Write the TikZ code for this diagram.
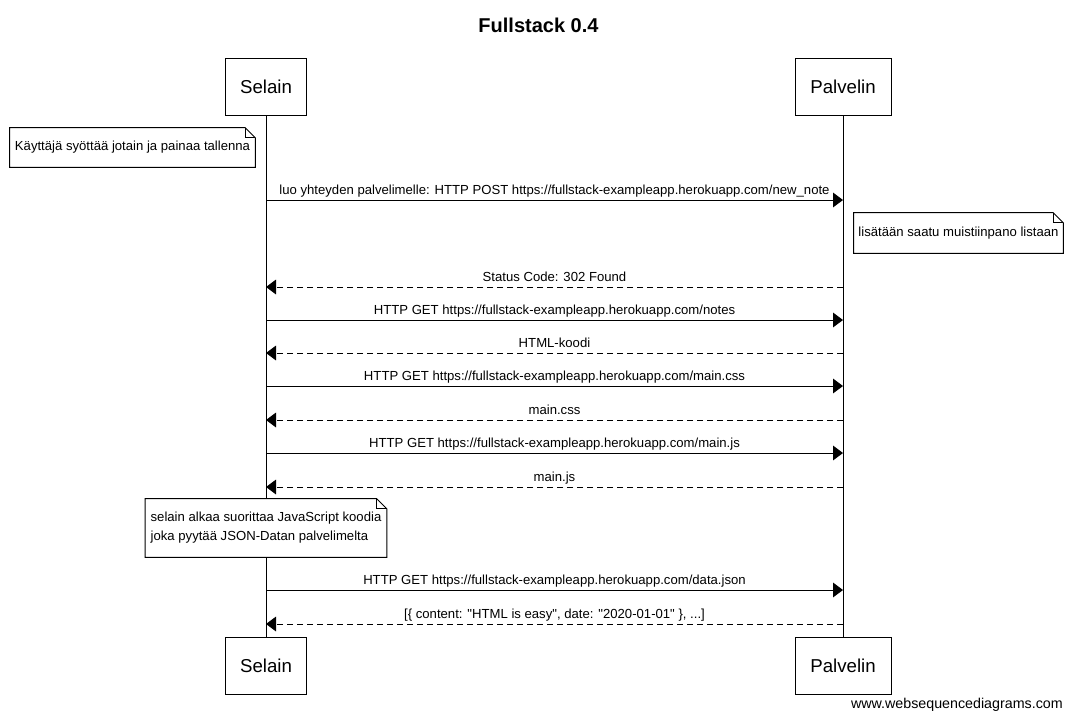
\documentclass[tikz,border=0pt]{standalone}
\usepackage{fontspec}
\setmainfont{Liberation Sans}
\usetikzlibrary{arrows.meta}

\begin{document}
\begin{tikzpicture}[x=0.75pt,y=-0.75pt,
  actor/.style={draw,line width=0.75pt,minimum height=42.75pt,inner sep=0pt,font=\fontsize{14}{16}\selectfont},
  note/.style={fill=white,inner sep=0pt,align=left,font=\fontsize{9.85}{14.25}\selectfont},
  msg/.style={line width=0.75pt,-{Triangle[length=7.5pt,width=11pt]}},
  ret/.style={msg,dash pattern=on 4.5pt off 3pt},
  lbl/.style={above,inner sep=1.5pt,text depth=2.5pt,font=\fontsize{9.85}{11}\selectfont}]
\useasboundingbox (0,0) rectangle (1073,719);
%\draw[step=50,gray,very thin] (0,0) grid (1073,719);

\node[font=\bfseries\fontsize{15}{18}\selectfont] (otsikko) at (538.5,25) {Fullstack 0.4};

%osapuolet
\node[actor,minimum width=60.75pt] (selain) at (266,86.5) {Selain};
\node[actor,minimum width=72pt] (palvelin) at (843,86.5) {Palvelin};
\node[actor,minimum width=60.75pt] (selain2) at (266,665.5) {Selain};
\node[actor,minimum width=72pt] (palvelin2) at (843,665.5) {Palvelin};
\draw[line width=0.75pt] (selain.south) -- (selain2.north);
\draw[line width=0.75pt] (palvelin.south) -- (palvelin2.north);

%huomautus 1
\node[note,minimum width=183.75pt,minimum height=29.25pt] (huom1) at (132.5,147.5) {Käyttäjä syöttää jotain ja painaa tallenna};
\draw[line width=0.75pt] (huom1.north west) -- ([xshift=-7.5pt]huom1.north east) -- ([yshift=-7.5pt]huom1.north east) -- (huom1.south east) -- (huom1.south west) -- cycle;
\draw[line width=0.5pt] ([xshift=-7.5pt]huom1.north east) -- ([xshift=-7.5pt,yshift=-7.5pt]huom1.north east) -- ([yshift=-7.5pt]huom1.north east);

%POST
\coordinate (s1) at (266,200);
\coordinate (p1) at (843,200);
\draw[msg] (s1) -- node[lbl] {luo yhteyden palvelimelle: HTTP POST https://fullstack-exampleapp.herokuapp.com/new\_note} (p1);

%huomautus 2
\node[note,minimum width=156.75pt,minimum height=30pt] (huom2) at (958.5,233) {lisätään saatu muistiinpano listaan};
\draw[line width=0.75pt] (huom2.north west) -- ([xshift=-7.5pt]huom2.north east) -- ([yshift=-7.5pt]huom2.north east) -- (huom2.south east) -- (huom2.south west) -- cycle;
\draw[line width=0.5pt] ([xshift=-7.5pt]huom2.north east) -- ([xshift=-7.5pt,yshift=-7.5pt]huom2.north east) -- ([yshift=-7.5pt]huom2.north east);

%302
\coordinate (p2) at (843,287);
\coordinate (s2) at (266,287);
\draw[ret] (p2) -- node[lbl] {Status Code: 302 Found} (s2);

%notes
\coordinate (s3) at (266,320);
\coordinate (p3) at (843,320);
\draw[msg] (s3) -- node[lbl] {HTTP GET https://fullstack-exampleapp.herokuapp.com/notes} (p3);
\coordinate (p4) at (843,353);
\coordinate (s4) at (266,353);
\draw[ret] (p4) -- node[lbl] {HTML-koodi} (s4);

%main.css
\coordinate (s5) at (266,386);
\coordinate (p5) at (843,386);
\draw[msg] (s5) -- node[lbl] {HTTP GET https://fullstack-exampleapp.herokuapp.com/main.css} (p5);
\coordinate (p6) at (843,420);
\coordinate (s6) at (266,420);
\draw[ret] (p6) -- node[lbl] {main.css} (s6);

%main.js
\coordinate (s7) at (266,453);
\coordinate (p7) at (843,453);
\draw[msg] (s7) -- node[lbl] {HTTP GET https://fullstack-exampleapp.herokuapp.com/main.js} (p7);
\coordinate (p8) at (843,487);
\coordinate (s8) at (266,487);
\draw[ret] (p8) -- node[lbl] {main.js} (s8);

%huomautus 3
\node[note,minimum width=180.75pt,minimum height=43.5pt] (huom3) at (266,528) {\raisebox{-2pt}{selain alkaa suorittaa JavaScript koodia}\\\raisebox{-2pt}{joka pyytää JSON-Datan palvelimelta}};
\draw[line width=0.75pt] (huom3.north west) -- ([xshift=-7.5pt]huom3.north east) -- ([yshift=-7.5pt]huom3.north east) -- (huom3.south east) -- (huom3.south west) -- cycle;
\draw[line width=0.5pt] ([xshift=-7.5pt]huom3.north east) -- ([xshift=-7.5pt,yshift=-7.5pt]huom3.north east) -- ([yshift=-7.5pt]huom3.north east);

%data.json
\coordinate (s9) at (266,590);
\coordinate (p9) at (843,590);
\draw[msg] (s9) -- node[lbl] {HTTP GET https://fullstack-exampleapp.herokuapp.com/data.json} (p9);
\coordinate (p10) at (843,624);
\coordinate (s10) at (266,624);
\draw[ret] (p10) -- node[lbl] {[\{ content: \textquotedbl HTML is easy\textquotedbl, date: \textquotedbl 2020-01-01\textquotedbl\ \}, ...]} (s10);

\node[anchor=east,inner sep=0pt,font=\fontsize{10.7}{12}\selectfont] (leima) at (1063,705) {www.websequencediagrams.com};

\end{tikzpicture}
\end{document}
